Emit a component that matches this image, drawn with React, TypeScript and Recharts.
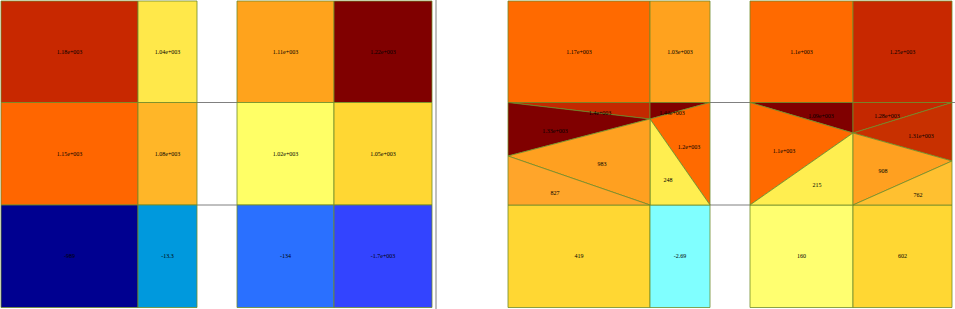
import React from 'react';
import { ScatterChart, Scatter, XAxis, YAxis } from 'recharts';

// column edges (data units) for each block of cells
const leftCols = [1, 138, 197, 237, 334, 432];
const rightCols = [508, 650, 710, 750, 853, 952];
const rowEdges = [1, 102.5, 205, 307.5];

const leftLabels = [
  ['1.18e+003', '1.04e+003', '1.11e+003', '1.22e+003'],
  ['1.15e+003', '1.08e+003', '1.02e+003', '1.05e+003'],
  ['-989', '-13.3', '-134', '-1.7e+003'],
];
const leftColors = [
  ['#C82800', '#FFE84A', '#FFA31C', '#800000'],
  ['#FF6600', '#FFB628', '#FFFF66', '#FFD733'],
  ['#000090', '#0099DD', '#2A70FF', '#3344FF'],
];

const rightTopLabels = ['1.17e+003', '1.03e+003', '1.1e+003', '1.25e+003'];
const rightTopColors = ['#FF6A00', '#FFA21E', '#FF6A00', '#C82800'];
const rightBottomLabels = ['419', '-2.69', '160', '602'];
const rightBottomColors = ['#FFD733', '#80FFFF', '#FFFF70', '#FFD733'];

// split cells in the middle row of the right panel
const splitPolys = [
  { pts: [[508, 102.5], [650, 102.5], [650, 119]], fill: '#C42800', label: '1.4e+003', at: [600, 113] },
  { pts: [[508, 102.5], [650, 119], [508, 156]], fill: '#800000', label: '1.33e+003', at: [555, 131] },
  { pts: [[650, 102.5], [710, 102.5], [650, 119]], fill: '#800000', label: '1.44e+003', at: [672, 113] },
  { pts: [[650, 119], [710, 102.5], [710, 205]], fill: '#FF6A00', label: '1.2e+003', at: [689, 147] },
  { pts: [[650, 119], [710, 205], [650, 205]], fill: '#FFEE50', label: '248', at: [668, 180] },
  { pts: [[508, 156], [650, 119], [650, 205]], fill: '#FFA020', label: '983', at: [602, 164] },
  { pts: [[508, 156], [650, 205], [508, 205]], fill: '#FFA52A', label: '827', at: [555, 193] },
  { pts: [[750, 102.5], [853, 102.5], [853, 133]], fill: '#800000', label: '1.09e+003', at: [821, 116] },
  { pts: [[750, 102.5], [853, 133], [750, 205]], fill: '#FF6A00', label: '1.1e+003', at: [784, 151] },
  { pts: [[853, 133], [853, 205], [750, 205]], fill: '#FFEE50', label: '215', at: [817, 185] },
  { pts: [[853, 102.5], [952, 102.5], [853, 133]], fill: '#C42800', label: '1.28e+003', at: [887, 116] },
  { pts: [[853, 133], [952, 102.5], [952, 161]], fill: '#C83000', label: '1.31e+003', at: [921, 136] },
  { pts: [[853, 133], [952, 161], [853, 205]], fill: '#FFA020', label: '908', at: [883, 171] },
  { pts: [[853, 205], [952, 161], [952, 205]], fill: '#FFC030', label: '762', at: [918, 195] },
];

// grey guide lines between the blocks
const guideLines = [
  [[197, 102.5], [237, 102.5]],
  [[197, 205], [237, 205]],
  [[710, 102.5], [750, 102.5]],
  [[710, 205], [750, 205]],
  [[952, 102.5], [955, 102.5]],
  [[436, 0], [436, 309]],
];

type Cell = { pts: number[][]; fill: string; label: string; at: number[] };

const blockCols = (cols: number[]) => [[cols[0], cols[1]], [cols[1], cols[2]], [cols[3], cols[4]], [cols[4], cols[5]]];

const rectCell = (x: number[], y: number[], fill: string, label: string): Cell => ({
  pts: [[x[0], y[0]], [x[1], y[0]], [x[1], y[1]], [x[0], y[1]]],
  fill,
  label,
  at: [(x[0] + x[1]) / 2, (y[0] + y[1]) / 2],
});

const cells: Cell[] = [];
blockCols(leftCols).forEach((x, c) => {
  for (let r = 0; r < 3; r++) {
    cells.push(rectCell(x, [rowEdges[r], rowEdges[r + 1]], leftColors[r][c], leftLabels[r][c]));
  }
});
blockCols(rightCols).forEach((x, c) => {
  cells.push(rectCell(x, [rowEdges[0], rowEdges[1]], rightTopColors[c], rightTopLabels[c]));
  cells.push(rectCell(x, [rowEdges[2], rowEdges[3]], rightBottomColors[c], rightBottomLabels[c]));
});
splitPolys.forEach((p) => cells.push(p));

const labelData = cells.map((c) => ({ x: c.at[0], y: c.at[1], label: c.label }));

const noDot = () => <g />;

const polygonLine = (fill: string, stroke: string) => (props: any) => (
  <polygon
    points={props.points.map((p: any) => `${p.x},${p.y}`).join(' ')}
    fill={fill}
    stroke={stroke}
    strokeWidth={0.8}
  />
);

const polyLine = (props: any) => (
  <polyline
    points={props.points.map((p: any) => `${p.x},${p.y}`).join(' ')}
    fill="none"
    stroke="#808080"
    strokeWidth={1}
  />
);

const LabelText = (props: any) => (
  <text
    x={props.cx}
    y={props.cy}
    textAnchor="middle"
    dominantBaseline="central"
    fontSize={6}
    fontFamily="Liberation Serif, serif"
    fill="#000"
  >
    {props.payload.label}
  </text>
);

export default function App() {
  return (
    <div style={{ position: 'absolute', left: 0, top: 0, background: '#fff' }}>
      <ScatterChart width={955} height={309} margin={{ top: 0, right: 0, bottom: 0, left: 0 }}>
        <XAxis type="number" dataKey="x" domain={[0, 955]} hide allowDataOverflow />
        <YAxis type="number" dataKey="y" domain={[0, 309]} reversed hide allowDataOverflow />
        {guideLines.map((l, i) => (
          <Scatter
            key={`g${i}`}
            data={l.map((p) => ({ x: p[0], y: p[1] }))}
            line={polyLine}
            shape={noDot}
            isAnimationActive={false}
          />
        ))}
        {cells.map((c, i) => (
          <Scatter
            key={`c${i}`}
            data={c.pts.map((p) => ({ x: p[0], y: p[1] }))}
            line={polygonLine(c.fill, '#6E8B2A')}
            shape={noDot}
            isAnimationActive={false}
          />
        ))}
        <Scatter data={labelData} shape={LabelText} isAnimationActive={false} />
      </ScatterChart>
    </div>
  );
}
